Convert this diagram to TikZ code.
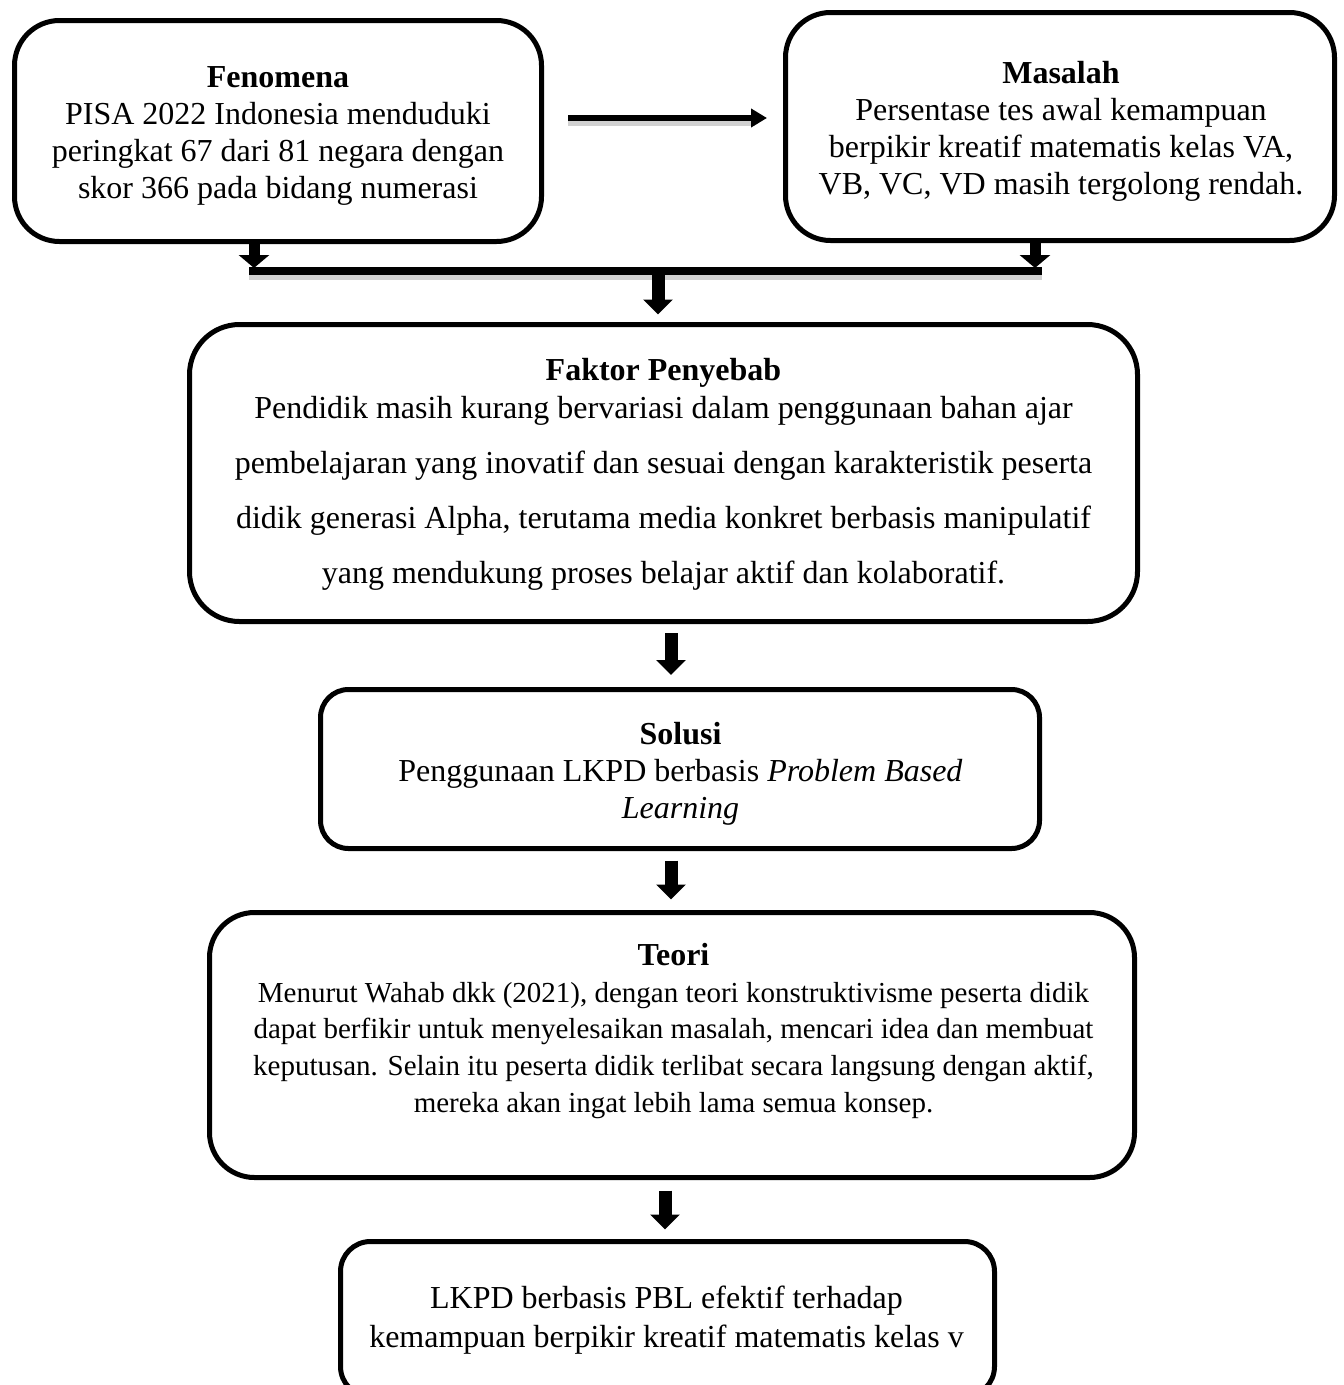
\documentclass[tikz,border=0pt]{standalone}
\usepackage{fontspec}
\setmainfont{Liberation Serif}
\usetikzlibrary{arrows.meta}
\begin{document}
\begin{tikzpicture}[x=1pt,y=-1pt,
  box/.style={draw, line width=5pt, rounded corners=#1, inner sep=0pt},
  txt/.style={align=center, inner sep=0pt, font=\fontsize{32}{37}\selectfont},
  fat/.style={line width=13pt, -{Triangle[width=29pt,length=15pt]}},
  thin/.style={line width=11pt, -{Triangle[width=30pt,length=13pt]}},
  shade/.style={line width=9pt, black!18},
]
\useasboundingbox (0,0) rectangle (1344,1385);
\clip (0,0) rectangle (1344,1385);

% boxes
\node[box=45pt, minimum width=527pt, minimum height=221pt] (fen) at (278,131) {};
\node[box=45pt, minimum width=549pt, minimum height=228pt] (mas) at (1060,126.5) {};
\node[box=50pt, minimum width=948pt, minimum height=297pt] (fak) at (663.5,473) {};
\node[box=28pt, minimum width=719pt, minimum height=159pt] (sol) at (680,769) {};
\node[box=45pt, minimum width=925pt, minimum height=265pt] (teo) at (672,1045) {};
\node[box=30pt, minimum width=654pt, minimum height=155pt] (hasil) at (667.5,1319) {};

% texts
\node[txt] (tfen) at (278,136) {\textbf{Fenomena}\\PISA 2022 Indonesia menduduki\\peringkat 67 dari 81 negara dengan\\skor 366 pada bidang numerasi};
\node[txt] (tmas) at (1061,131) {\textbf{Masalah}\\Persentase tes awal kemampuan\\berpikir kreatif matematis kelas VA,\\VB, VC, VD masih tergolong rendah.};
\node[txt, font=\fontsize{32}{37.5}\selectfont] (tfak) at (663.5,474.5) {\textbf{Faktor Penyebab}\\Pendidik masih kurang bervariasi dalam penggunaan bahan ajar\\[17.5pt]pembelajaran yang inovatif dan sesuai dengan karakteristik peserta\\[17.5pt]didik generasi Alpha, terutama media konkret berbasis manipulatif\\[17.5pt]yang mendukung proses belajar aktif dan kolaboratif.};
\node[txt] (tsol) at (680.5,773.5) {\textbf{Solusi}\\Penggunaan LKPD berbasis \textit{Problem Based}\\\textit{Learning}};
\node[txt, font=\fontsize{29}{36.7}\selectfont] (tteo) at (673.5,1031) {{\fontsize{32}{36}\selectfont\textbf{Teori}}\\Menurut Wahab dkk (2021), dengan teori konstruktivisme peserta didik\\dapat berfikir untuk menyelesaikan masalah, mencari idea dan membuat\\keputusan. Selain itu peserta didik terlibat secara langsung dengan aktif,\\mereka akan ingat lebih lama semua konsep.};
\node[txt, font=\fontsize{32}{39}\selectfont] (thasil) at (666.5,1320) {LKPD berbasis PBL efektif terhadap\\kemampuan berpikir kreatif matematis kelas v};

% horizontal arrow with shadow
\coordinate (hS) at (568,118);
\coordinate (hE) at (767,118);
\draw[shade, line width=8pt] ([yshift=-4pt]hS) -- ([yshift=-4pt,xshift=-12pt]hE);
\draw[line width=6pt, -{Triangle[width=18pt,length=16pt]}] (hS) -- (hE);

% bus bar
\coordinate (busL) at (249,271);
\coordinate (busR) at (1042,271);
\coordinate (stL) at (254,271);
\coordinate (stR) at (1035,271);
\coordinate (busC) at (658,271);
\draw[shade] ([yshift=-4pt]busL) -- ([yshift=-4pt]busR);
\draw[thin] (fen.south -| stL) -- ([yshift=3pt]stL);
\draw[thin] (mas.south -| stR) -- ([yshift=3pt]stR);
\draw[line width=8pt] (busL) -- (busR);
\draw[fat] (busC) -- ([yshift=7.5pt]fak.north -| busC);

% vertical arrows
\coordinate (a1) at (671,0);
\coordinate (a3) at (665,0);
\draw[fat] ([yshift=-9pt]fak.south -| a1) -- ([yshift=12pt]sol.north -| a1);
\draw[fat] ([yshift=-9.5pt]sol.south -| a1) -- ([yshift=10.5pt]teo.north -| a1);
\draw[fat] ([yshift=-10.5pt]teo.south -| a3) -- ([yshift=9.5pt]hasil.north -| a3);
\end{tikzpicture}
\end{document}
